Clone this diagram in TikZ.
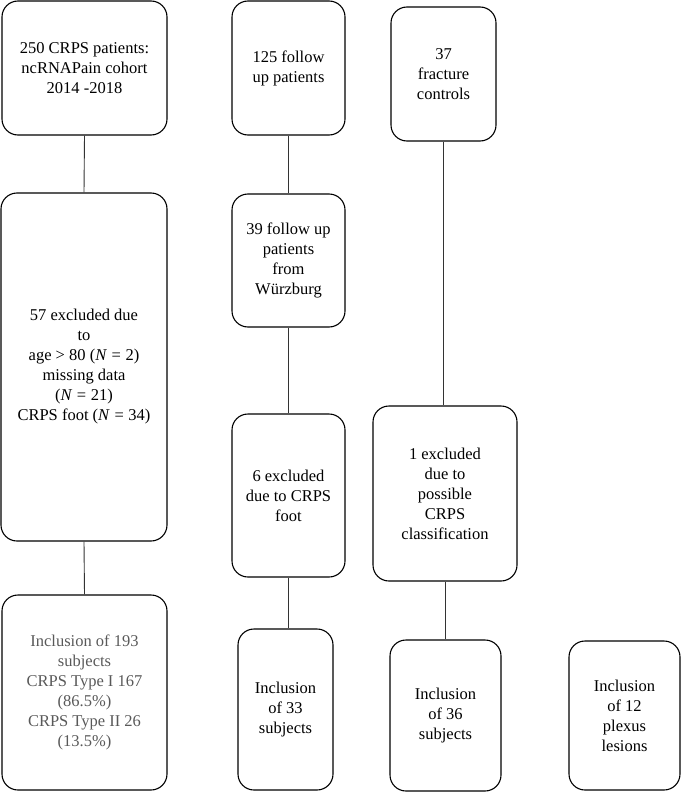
\documentclass[tikz,border=0pt]{standalone}
\usepackage{fontspec}
\setmainfont{Liberation Serif}
\begin{document}
\begin{tikzpicture}[x=1pt,y=-1pt,
    box/.style={draw,line width=1.1pt,rounded corners=16pt,align=center,inner sep=0pt,
        font=\fontsize{16.5}{20}\selectfont},
    link/.style={draw,line width=0.9pt,color=black!80}]
            \useasboundingbox (0,0) rectangle (680,792);
            % Top row
            \node [box,minimum width=165,minimum height=134] (cohort) at (84.5,68) {250 CRPS patients:\\ncRNAPain cohort\\2014 -2018};
            \node [box,minimum width=113,minimum height=134] (followup) at (288.5,68) {125 follow\\up patients};
            \node [box,minimum width=105,minimum height=134] (fracture) at (443.5,74) {37\\fracture\\controls};

            % Middle row
            \node [box,minimum width=166,minimum height=348] (exclA) at (84,367) {57 excluded due\\to\\age > 80 (\textit{N}\;=\;2)\\missing data\\(\textit{N}\;=\;21)\\CRPS foot (\textit{N}\;=\;34)};
            \node [box,minimum width=113,minimum height=133] (wuerzburg) at (288.5,260.5) {39 follow up\\patients\\from\\Würzburg};
            \node [box,minimum width=113,minimum height=163] (exclB) at (288.5,495.5) {6 excluded\\due to CRPS\\foot};
            \node [box,minimum width=144,minimum height=175] (exclC) at (445,493.5) {1 excluded\\due to\\possible\\CRPS\\classification};

            % Bottom row
            \node [box,minimum width=165,minimum height=195,text=black!65] (inclA) at (84.5,692.5) {Inclusion of 193\\subjects\\CRPS Type I 167\\(86.5\%)\\CRPS Type II 26\\(13.5\%)};
            \node [box,minimum width=95,minimum height=161] (inclB) at (285.5,709.5) {Inclusion\\of 33\\subjects};
            \node [box,minimum width=111,minimum height=151] (inclC) at (445.5,715.5) {Inclusion\\of 36\\subjects};
            \node [box,minimum width=111,minimum height=149] (plexus) at (624.5,715.5) {Inclusion\\of 12\\plexus\\lesions};

            % Links
            \draw [link] (cohort.south) -- (exclA.north);
            \draw [link] (exclA.south) -- (inclA.north);
            \draw [link] (followup.south) -- (wuerzburg.north);
            \draw [link] (wuerzburg.south) -- (exclB.north);
            \draw [link] (exclB.south) -- (exclB.south |- inclB.north);
            \draw [link] (fracture.south) -- (fracture.south |- exclC.north);
            \draw [link] (exclC.south) -- (exclC.south |- inclC.north);
        \end{tikzpicture}
\end{document}
